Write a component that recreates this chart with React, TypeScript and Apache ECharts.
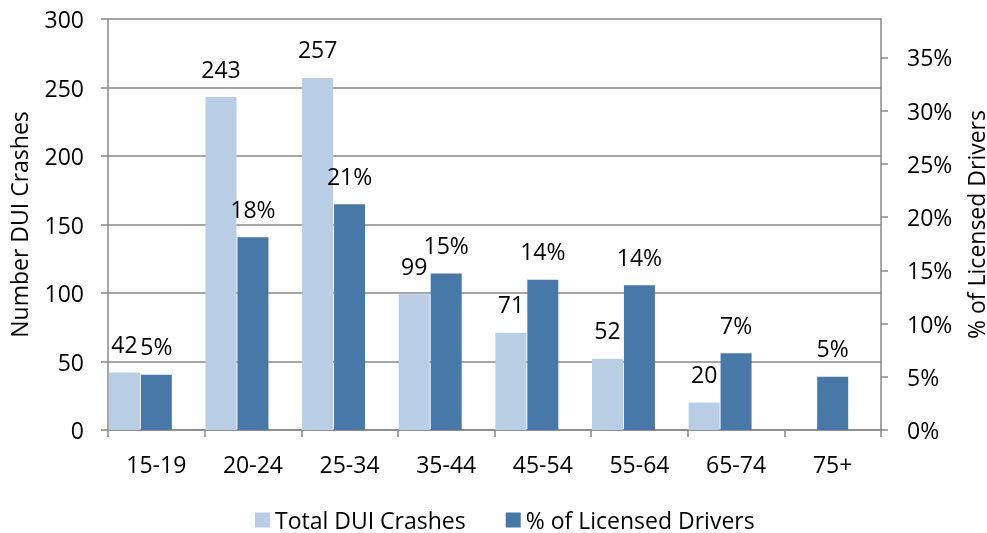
import React, { useEffect, useRef } from "react";
import * as echarts from "echarts";

const categories = ["15-19", "20-24", "25-34", "35-44", "45-54", "55-64", "65-74", "75+"];
const totalCrashes: (number | null)[] = [42, 243, 257, 99, 71, 52, 20, null];
const licensedPct: number[] = [0.052, 0.181, 0.212, 0.147, 0.141, 0.136, 0.072, 0.05];
const leftTicks = { min: 0, max: 300, interval: 50 };
const rightTicks = { min: 0, max: 0.386, interval: 0.05 };
const spacer: (number | null)[] = [];

const FONT = "'Open Sans', sans-serif";
const FS = 23;
const GRAY = "#898989";

export default function App() {
  const ref = useRef<HTMLDivElement>(null);
  useEffect(() => {
    if (!ref.current) return;
    const chart = echarts.init(ref.current, null, { renderer: "svg" });
    chart.setOption({
      animation: false,
      textStyle: { fontFamily: FONT, color: "#000" },
      grid: {
        left: 108,
        right: 106,
        top: 19,
        bottom: 103,
        containLabel: false,
        outerBoundsMode: "none",
      },
      legend: {
        data: ["Total DUI Crashes", "% of Licensed Drivers"],
        left: 250,
        top: 503,
        itemWidth: 15,
        itemHeight: 15,
        itemGap: 40,
        icon: "rect",
        textStyle: { fontFamily: FONT, fontSize: FS, color: "#000", lineHeight: 24 },
      },
      xAxis: {
        type: "category",
        data: categories,
        axisLine: { lineStyle: { color: GRAY, width: 1.5 } },
        axisTick: { show: true, length: 7, lineStyle: { color: GRAY, width: 1.5 } },
        axisLabel: { fontFamily: FONT, fontSize: FS, color: "#000", margin: 22 },
      },
      yAxis: [
        {
          type: "value",
          min: leftTicks.min,
          max: leftTicks.max,
          interval: leftTicks.interval,
          name: "Number DUI Crashes",
          nameLocation: "middle",
          nameGap: 78,
          nameRotate: 90,
          nameTextStyle: { fontFamily: FONT, fontSize: FS, color: "#000" },
          axisLine: { show: true, lineStyle: { color: GRAY, width: 1.5 } },
          axisTick: { show: true, length: 7, lineStyle: { color: GRAY, width: 1.5 } },
          axisLabel: { fontFamily: FONT, fontSize: FS, color: "#000", margin: 24 },
          splitLine: { show: true, lineStyle: { color: GRAY, width: 1.5 } },
        },
        {
          type: "value",
          position: "right",
          min: rightTicks.min,
          max: rightTicks.max,
          interval: rightTicks.interval,
          name: "% of Licensed Drivers",
          nameLocation: "middle",
          nameGap: 83,
          nameRotate: 90,
          nameTextStyle: { fontFamily: FONT, fontSize: FS, color: "#000" },
          axisLine: { show: true, lineStyle: { color: GRAY, width: 1.5 } },
          axisTick: { show: true, length: 7, lineStyle: { color: GRAY, width: 1.5 } },
          axisLabel: {
            fontFamily: FONT,
            fontSize: FS,
            color: "#000",
            margin: 26,
            showMaxLabel: false,
            formatter: (v: number) => Math.round(v * 100) + "%",
          },
          splitLine: { show: false },
        },
      ],
      series: [
        {
          name: "Total DUI Crashes",
          type: "bar",
          yAxisIndex: 0,
          data: totalCrashes,
          barWidth: 31,
          barGap: "3%",
          itemStyle: { color: "#B9CDE5" },
          label: {
            show: true,
            position: "top",
            distance: 17,
            fontFamily: FONT,
            fontSize: FS,
            color: "#000",
          },
        },
        {
          name: "% of Licensed Drivers",
          type: "bar",
          yAxisIndex: 1,
          data: licensedPct,
          barWidth: 31,
          barGap: "3%",
          itemStyle: { color: "#4878A8" },
          label: {
            show: true,
            position: "top",
            distance: 17,
            fontFamily: FONT,
            fontSize: FS,
            color: "#000",
            formatter: (p: any) => Math.round(p.value * 100) + "%",
          },
        },
        {
          name: "spacer",
          type: "bar",
          yAxisIndex: 0,
          data: spacer,
          barWidth: 31,
          barGap: "3%",
          silent: true,
        },
      ],
    });
    return () => chart.dispose();
  }, []);
  return (
    <div
      ref={ref}
      style={{ width: 987, height: 533, position: "fixed", left: 0, top: 0, overflow: "hidden" }}
    />
  );
}
